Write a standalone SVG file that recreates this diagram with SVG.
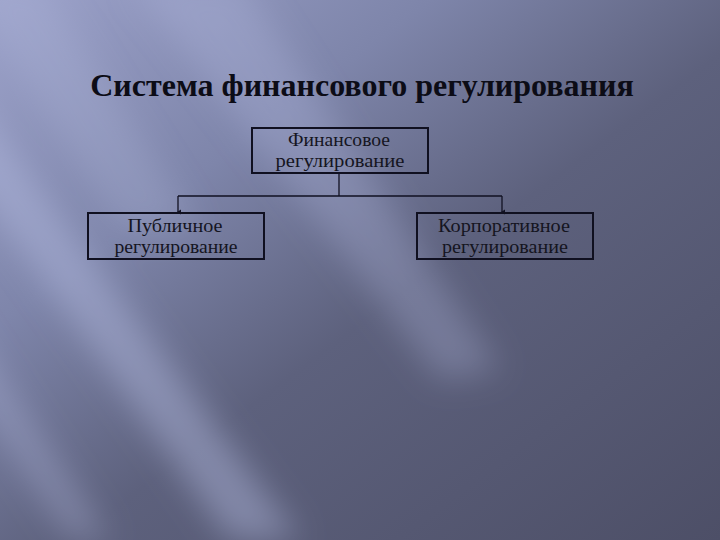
<svg xmlns="http://www.w3.org/2000/svg" width="720" height="540" viewBox="0 0 720 540">
<defs>
<linearGradient id="bg" x1="0" y1="0" x2="1" y2="1">
<stop offset="0" stop-color="#9ba1c9"/>
<stop offset="0.3" stop-color="#7e85aa"/>
<stop offset="0.55" stop-color="#5d617d"/>
<stop offset="1" stop-color="#4d4f67"/>
</linearGradient>
<filter id="blur" x="-50%" y="-50%" width="200%" height="200%">
<feGaussianBlur stdDeviation="16"/>
</filter>
<marker id="arr" markerWidth="6" markerHeight="6" refX="3" refY="5" orient="auto" markerUnits="userSpaceOnUse" viewBox="0 0 6 6">
<path d="M0.5,2 L3,6 L5.5,2 Z" fill="#111122"/>
</marker>
<style>
.box{fill:none;stroke:#101020;stroke-width:2}
.lbl{font-family:"Liberation Serif","Times New Roman",serif;font-size:18px;fill:#15151f;text-anchor:middle}
.title{font-family:"Liberation Serif","Times New Roman",serif;font-size:32px;font-weight:bold;fill:#0c0c16;text-anchor:middle}
.conn{fill:none;stroke:#111122;stroke-width:1.3}
.streak{fill:#b4bae0}
</style>
</defs>
<rect width="720" height="540" fill="url(#bg)"/>
<g filter="url(#blur)">
<polygon class="streak" points="-160,0 -100,0 300,540 230,540" opacity="0.45"/>
<polygon class="streak" points="-90,300 -50,300 110,540 70,540" opacity="0.35"/>
<polygon class="streak" points="130,-20 240,-20 500,370 440,380" opacity="0.3"/>
<polygon class="streak" points="-40,-20 40,-20 200,230 120,230" opacity="0.25"/>
</g>
<text class="title" x="362" y="96">Система финансового регулирования</text>
<g id="connectors">
<path class="conn" d="M339,173 V196 M178,196 H502"/>
<path class="conn" d="M178,196 V212" marker-end="url(#arr)"/>
<path class="conn" d="M502,196 V212" marker-end="url(#arr)"/>
</g>
<g id="node-financial">
<rect class="box" x="252" y="128" width="176" height="45"/>
<text class="lbl" x="339" y="146" textLength="102" lengthAdjust="spacingAndGlyphs">Финансовое</text>
<text class="lbl" x="340" y="167" textLength="129" lengthAdjust="spacingAndGlyphs">регулирование</text>
</g>
<g id="node-public">
<rect class="box" x="88" y="213" width="176" height="46"/>
<text class="lbl" x="175" y="232" textLength="95" lengthAdjust="spacingAndGlyphs">Публичное</text>
<text class="lbl" x="176" y="253" textLength="123" lengthAdjust="spacingAndGlyphs">регулирование</text>
</g>
<g id="node-corporate">
<rect class="box" x="417" y="213" width="176" height="46"/>
<text class="lbl" x="504" y="232" textLength="132" lengthAdjust="spacingAndGlyphs">Корпоративное</text>
<text class="lbl" x="505" y="253" textLength="126" lengthAdjust="spacingAndGlyphs">регулирование</text>
</g>
</svg>
